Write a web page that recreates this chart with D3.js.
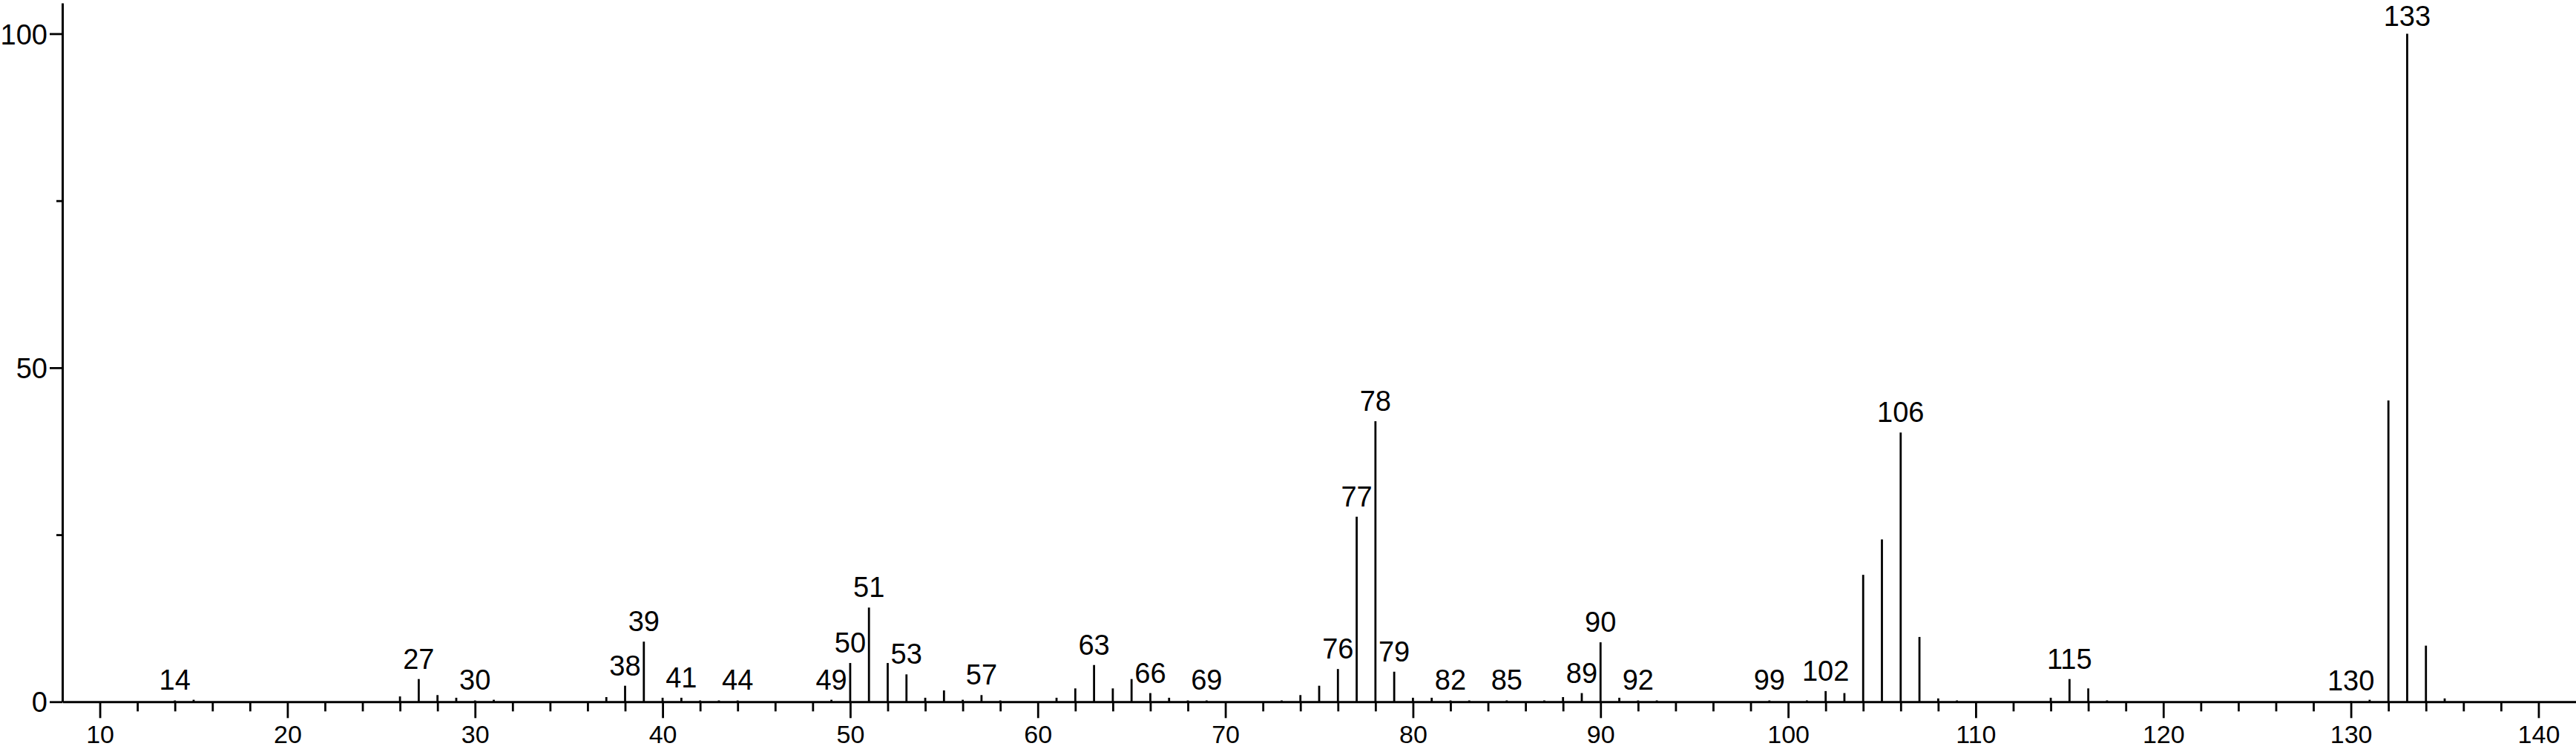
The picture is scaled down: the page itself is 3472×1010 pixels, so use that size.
<!DOCTYPE html>
<html>
<head>
<meta charset="utf-8">
<script src="https://cdn.jsdelivr.net/npm/d3@7"></script>
<style>
  html, body { margin: 0; padding: 0; background: #ffffff; }
  svg { display: block; }
  text { font-family: "Liberation Sans", Arial, sans-serif; fill: #000; }
</style>
</head>
<body>
<svg id="chart" width="3472" height="1010"></svg>
<script>
// m/z values of the peaks
const mz = [14, 15, 26, 27, 28, 29, 30, 31, 37, 38, 39, 40, 41, 42, 43, 44,
  49, 50, 51, 52, 53, 54, 55, 56, 57, 58, 61, 62, 63, 64, 65, 66, 67, 68, 69,
  73, 74, 75, 76, 77, 78, 79, 80, 81, 82, 83, 85, 87, 88, 89, 90, 91, 92, 93,
  99, 101, 102, 103, 104, 105, 106, 107, 108, 109, 114, 115, 116, 117,
  130, 131, 132, 133, 134, 135];
// relative intensity (%)
const intensity = [0.2, 0.3, 0.8, 3.4, 1.0, 0.6, 0.2, 0.3, 0.7, 2.4, 9.0, 0.6, 0.6, 0.2, 0.2, 0.2,
  0.3, 5.8, 14.1, 5.8, 4.1, 0.6, 1.7, 0.3, 1.0, 0.2, 0.6, 2.0, 5.5, 2.0, 3.4, 1.3, 0.6, 0.2, 0.2,
  0.2, 1.0, 2.4, 4.9, 27.7, 42.0, 4.5, 0.6, 0.6, 0.2, 0.2, 0.2, 0.2, 0.7, 1.3, 8.9, 0.6, 0.2, 0.2,
  0.2, 0.2, 1.6, 1.3, 19.0, 24.3, 40.3, 9.7, 0.5, 0.2, 0.6, 3.4, 2.0, 0.2,
  0.1, 0.3, 45.1, 100, 8.4, 0.5];
// peaks carrying an m/z label
const labelled = [14, 27, 30, 38, 39, 41, 44, 49, 50, 51, 53, 57, 63, 66, 69,
  76, 77, 78, 79, 82, 85, 89, 90, 92, 99, 102, 106, 115, 130, 133];
// axis ticks
const xMajorTicks = [10, 20, 30, 40, 50, 60, 70, 80, 90, 100, 110, 120, 130, 140];
const xMinorTicks = [12, 14, 16, 18, 22, 24, 26, 28, 32, 34, 36, 38, 42, 44, 46, 48,
  52, 54, 56, 58, 62, 64, 66, 68, 72, 74, 76, 78, 82, 84, 86, 88, 92, 94, 96, 98,
  102, 104, 106, 108, 112, 114, 116, 118, 122, 124, 126, 128, 132, 134, 136, 138];
const yMajorTicks = [0, 50, 100];
const yMinorTicks = [25, 75];

const svg = d3.select("#chart");
const x = d3.scaleLinear().domain([8, 142]).range([84, 3472]);
const y = d3.scaleLinear().domain([0, 104.6]).range([946.3, 4]);

const peaks = mz.map((m, i) => ({ m, v: intensity[i] }));

// peaks
svg.append("g").selectAll("line").data(peaks).join("line")
  .attr("x1", d => x(d.m)).attr("x2", d => x(d.m))
  .attr("y1", y(0)).attr("y2", d => y(d.v))
  .attr("stroke", "#000").attr("stroke-width", 2.8);

// x axis: minor ticks
const gxMinor = svg.append("g").attr("transform", `translate(0,${y(0)})`)
  .call(d3.axisBottom(x).tickValues(xMinorTicks).tickSize(13).tickSizeOuter(0).tickFormat(""));
gxMinor.select(".domain").remove();
gxMinor.selectAll(".tick line").attr("stroke", "#000").attr("stroke-width", 2.8);

// x axis: major ticks + labels
const gx = svg.append("g").attr("transform", `translate(0,${y(0)})`)
  .call(d3.axisBottom(x).tickValues(xMajorTicks).tickSize(22).tickSizeOuter(0).tickPadding(9.5)
    .tickFormat(d3.format("d")));
gx.select(".domain").attr("stroke", "#000").attr("stroke-width", 3);
gx.selectAll(".tick line").attr("stroke", "#000").attr("stroke-width", 2.8);
gx.selectAll(".tick text").attr("font-size", 34).attr("font-family", "Liberation Sans, Arial, sans-serif");

// y axis: minor ticks
const gyMinor = svg.append("g").attr("transform", `translate(${x(8)},0)`)
  .call(d3.axisLeft(y).tickValues(yMinorTicks).tickSize(8).tickSizeOuter(0).tickFormat(""));
gyMinor.select(".domain").remove();
gyMinor.selectAll(".tick line").attr("stroke", "#000").attr("stroke-width", 2.8);

// y axis: major ticks + labels
const gy = svg.append("g").attr("transform", `translate(${x(8)},0)`)
  .call(d3.axisLeft(y).tickValues(yMajorTicks).tickSize(17).tickSizeOuter(0).tickPadding(3)
    .tickFormat(d3.format("d")));
gy.select(".domain").attr("stroke", "#000").attr("stroke-width", 3);
gy.selectAll(".tick line").attr("stroke", "#000").attr("stroke-width", 2.8);
gy.selectAll(".tick text").attr("font-size", 38).attr("dy", "0.36em")
  .attr("font-family", "Liberation Sans, Arial, sans-serif");

// peak labels
svg.append("g").selectAll("text").data(peaks.filter(d => labelled.includes(d.m))).join("text")
  .attr("x", d => x(d.m))
  .attr("y", d => Math.max(y(d.v) - 14, 35))
  .attr("text-anchor", "middle")
  .attr("font-size", 38)
  .text(d => d.m);
</script>
</body>
</html>
